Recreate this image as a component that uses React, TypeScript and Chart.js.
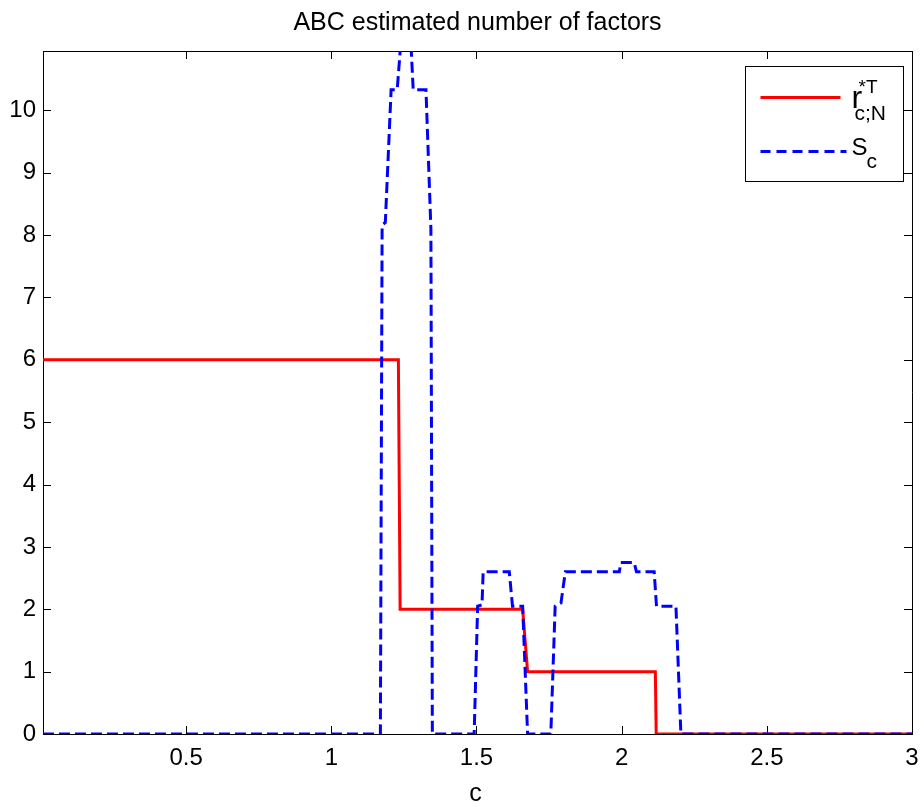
import React, { useEffect, useRef } from "react";
import { Chart, registerables } from "chart.js";

Chart.register(...registerables);

const chartTitle = "ABC estimated number of factors";
const xAxisLabel = "c";
const xMin = 0.007;
const xMax = 3;
const yMin = 0;
const yMax = 10.95;
const xTickValues = [0.5, 1, 1.5, 2, 2.5, 3];
const yTickValues = [0, 1, 2, 3, 4, 5, 6, 7, 8, 9, 10];

// r*T_{c;N} (red step line)
const rX = [0.007, 1.231, 1.237, 1.659, 1.676, 2.116, 2.119, 3];
const rY = [6, 6, 2, 2, 1, 1, 0, 0];

// S_c (blue dashed line)
const sX = [0.007, 1.169, 1.175, 1.186, 1.206, 1.227, 1.238, 1.275, 1.282, 1.326, 1.343, 1.348,
  1.492, 1.504, 1.519, 1.523, 1.613, 1.624, 1.659, 1.676,
  1.756, 1.771, 1.791, 1.806, 1.992, 1.997, 2.043, 2.051, 2.112, 2.12, 2.187, 2.204, 3];
const sY = [0, 0, 8.16, 8.2, 10.33, 10.33, 11, 11, 10.33, 10.33, 8.1, 0,
  0, 2.05, 2.07, 2.6, 2.6, 2.05, 2.05, 0,
  0, 2.05, 2.1, 2.6, 2.6, 2.75, 2.75, 2.6, 2.6, 2.05, 2.05, 0, 0];

const FONT = '"Liberation Sans", Arial, Helvetica, sans-serif';
const RED = "#ff0000";
const BLUE = "#0000ff";
const DASH = [11, 5];

const framePlugin = {
  id: "matlabFrame",
  beforeDatasetsDraw(chart: any) {
    const { ctx, chartArea: a, scales } = chart;
    const xs = scales.x;
    const ys = scales.y;
    const L = 8;
    ctx.save();
    ctx.strokeStyle = "#000";
    ctx.lineWidth = 1;
    ctx.beginPath();
    // top & right borders
    ctx.moveTo(a.left, a.top + 0.5);
    ctx.lineTo(a.right + 0.5, a.top + 0.5);
    ctx.moveTo(a.right + 0.5, a.top);
    ctx.lineTo(a.right + 0.5, a.bottom + 0.5);
    // inward ticks
    xTickValues.forEach((v) => {
      const px = Math.round(xs.getPixelForValue(v)) + 0.5;
      ctx.moveTo(px, a.bottom);
      ctx.lineTo(px, a.bottom - L);
      ctx.moveTo(px, a.top);
      ctx.lineTo(px, a.top + L);
    });
    yTickValues.forEach((v) => {
      const py = Math.round(ys.getPixelForValue(v)) + 0.5;
      ctx.moveTo(a.left, py);
      ctx.lineTo(a.left + L, py);
      ctx.moveTo(a.right, py);
      ctx.lineTo(a.right - L, py);
    });
    ctx.stroke();
    ctx.restore();
  },
  afterDraw(chart: any) {
    const { ctx, chartArea: a } = chart;
    ctx.save();
    ctx.fillStyle = "#000";
    // title
    ctx.font = `25px ${FONT}`;
    ctx.textAlign = "center";
    ctx.textBaseline = "alphabetic";
    const cx = (a.left + a.right) / 2;
    ctx.fillText(chartTitle, cx, 30);
    // x label
    ctx.font = `25px ${FONT}`;
    ctx.fillText(xAxisLabel, cx - 2, 801);

    // legend
    const bw = 158;
    const bh = 115;
    const bx = Math.round(a.right - 9 - bw) + 0.5;
    const by = Math.round(a.top + 15) + 0.5;
    ctx.fillStyle = "#fff";
    ctx.fillRect(bx, by, bw, bh);
    ctx.strokeStyle = "#000";
    ctx.lineWidth = 1;
    ctx.strokeRect(bx, by, bw, bh);

    const lx0 = bx + 15;
    const lx1 = bx + 95;
    const y1 = by + 31;
    const y2 = by + 85;
    ctx.lineWidth = 3;
    ctx.strokeStyle = RED;
    ctx.setLineDash([]);
    ctx.beginPath();
    ctx.moveTo(lx0, y1);
    ctx.lineTo(lx1, y1);
    ctx.stroke();
    ctx.strokeStyle = BLUE;
    ctx.setLineDash([10, 6]);
    ctx.beginPath();
    ctx.moveTo(lx0, y2);
    ctx.lineTo(lx1 + 6, y2);
    ctx.stroke();
    ctx.setLineDash([]);

    ctx.fillStyle = "#000";
    ctx.textAlign = "left";
    const tx = bx + 106;
    // r^{*T}_{c;N}
    ctx.font = `32px ${FONT}`;
    ctx.fillText("r", tx, by + 41);
    ctx.font = `19px ${FONT}`;
    ctx.fillText("*T", tx + 7, by + 26);
    ctx.font = `21px ${FONT}`;
    ctx.fillText("c;N", tx + 3, by + 53);
    // S_c
    ctx.font = `24px ${FONT}`;
    ctx.fillText("S", tx, by + 88);
    ctx.font = `21px ${FONT}`;
    ctx.fillText("c", tx + 15, by + 101);
    ctx.restore();
  },
};

export default function App() {
  const canvasRef = useRef<HTMLCanvasElement | null>(null);

  useEffect(() => {
    const canvas = canvasRef.current;
    if (!canvas) return;
    const chart = new Chart(canvas, {
      type: "line",
      data: {
        datasets: [
          {
            label: "r*T c;N",
            data: rX.map((x, i) => ({ x, y: rY[i] })),
            borderColor: RED,
            backgroundColor: RED,
            borderWidth: 3,
            pointRadius: 0,
            tension: 0,
            fill: false,
            order: 1,
          },
          {
            label: "S c",
            data: sX.map((x, i) => ({ x, y: sY[i] })),
            borderColor: BLUE,
            backgroundColor: BLUE,
            borderWidth: 3,
            borderDash: DASH,
            pointRadius: 0,
            tension: 0,
            fill: false,
            order: 0,
          },
        ],
      },
      options: {
        responsive: false,
        animation: false,
        devicePixelRatio: 1,
        layout: { padding: { top: 51, right: 12, left: 0, bottom: 0 } },
        plugins: {
          legend: { display: false },
          title: { display: false },
          tooltip: { enabled: false },
        },
        scales: {
          x: {
            type: "linear",
            min: xMin,
            max: xMax,
            grid: { display: false, drawTicks: false },
            border: { display: true, color: "#000", width: 1 },
            ticks: {
              color: "#000",
              font: { family: FONT, size: 24 },
              padding: 10,
              maxRotation: 0,
              autoSkip: false,
              callback: (v: any) => String(v),
            },
            afterBuildTicks: (scale: any) => {
              scale.ticks = xTickValues.map((v) => ({ value: v }));
            },
            afterFit: (scale: any) => {
              scale.height = 73;
              scale.paddingLeft = 0;
              scale.paddingRight = 0;
              scale.paddingTop = 0;
              scale.paddingBottom = 0;
            },
          },
          y: {
            type: "linear",
            min: yMin,
            max: yMax,
            grid: { display: false, drawTicks: false },
            border: { display: true, color: "#000", width: 1 },
            ticks: {
              color: "#000",
              font: { family: FONT, size: 24 },
              padding: 7,
              autoSkip: false,
              callback: (v: any) => String(v),
            },
            afterBuildTicks: (scale: any) => {
              scale.ticks = yTickValues.map((v) => ({ value: v }));
            },
            afterFit: (scale: any) => {
              scale.width = 43;
              scale.paddingLeft = 0;
              scale.paddingRight = 0;
              scale.paddingTop = 0;
              scale.paddingBottom = 0;
            },
          },
        },
      },
      plugins: [framePlugin],
    });
    return () => chart.destroy();
  }, []);

  return (
    <div style={{ position: "absolute", left: 0, top: 0, width: 924, height: 807, background: "#fff" }}>
      <canvas ref={canvasRef} width={924} height={807} style={{ display: "block", width: 924, height: 807 }} />
    </div>
  );
}
